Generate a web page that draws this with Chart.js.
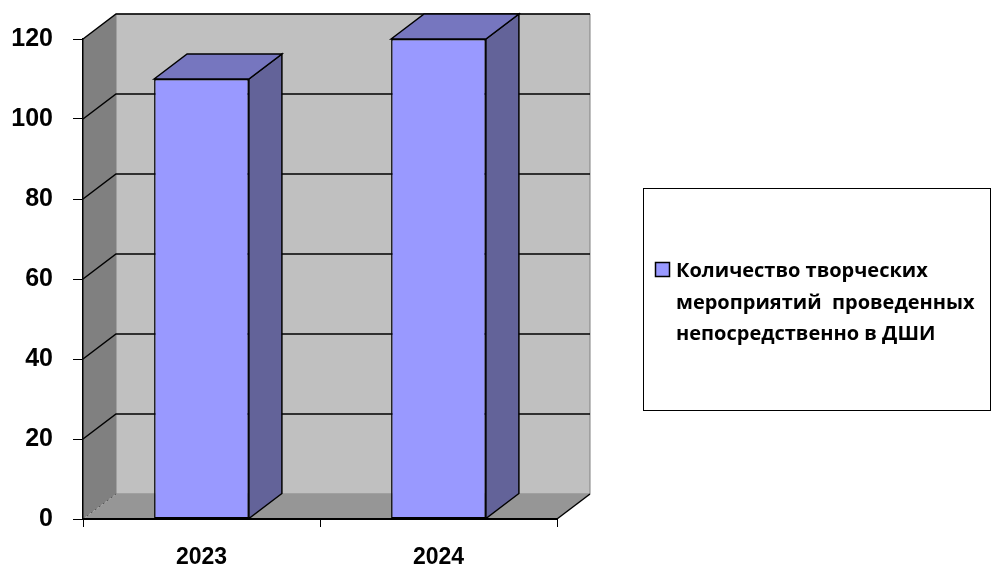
<!DOCTYPE html>
<html>
<head>
<meta charset="utf-8">
<script src="https://cdn.jsdelivr.net/npm/chart.js@4"></script>
<style>
  html, body { margin: 0; padding: 0; background: #fff; }
  #wrap { width: 994px; height: 564px; position: relative; }
</style>
</head>
<body>
<div id="wrap"><canvas id="eventsChart" width="994" height="564"></canvas></div>
<script>
const categories = ['2023', '2024'];
const eventCounts = [110, 120];
const yTickValues = [0, 20, 40, 60, 80, 100, 120];
const legendLines = ['Количество творческих', 'мероприятий  проведенных', 'непосредственно в ДШИ'];

// depth of the fake 3d box
const DX = 33, DY = -25;
const FONT = '"Liberation Sans", Arial, sans-serif';
const LEGEND_FONT = '"Open Sans", "Liberation Sans", sans-serif';

function poly(ctx, pts, fill, stroke, lw) {
  ctx.beginPath();
  ctx.moveTo(pts[0][0], pts[0][1]);
  for (let i = 1; i < pts.length; i++) ctx.lineTo(pts[i][0], pts[i][1]);
  ctx.closePath();
  if (fill) { ctx.fillStyle = fill; ctx.fill(); }
  if (stroke) { ctx.strokeStyle = stroke; ctx.lineWidth = lw || 1; ctx.stroke(); }
}

const box3d = {
  id: 'box3d',
  beforeDraw(chart) {
    const ctx = chart.ctx;
    const a = chart.chartArea;
    const y = chart.scales.y;
    ctx.save();
    // back wall
    poly(ctx, [[a.left + DX, a.top + DY], [a.right + DX, a.top + DY], [a.right + DX, a.bottom + DY], [a.left + DX, a.bottom + DY]], '#c0c0c0', '#808080', 1);
    // side wall
    poly(ctx, [[a.left, a.top], [a.left + DX, a.top + DY], [a.left + DX, a.bottom + DY], [a.left, a.bottom]], '#808080', null);
    // floor
    poly(ctx, [[a.left, a.bottom], [a.right, a.bottom], [a.right + DX, a.bottom + DY], [a.left + DX, a.bottom + DY]], '#969696', null);
    // grid lines
    ctx.strokeStyle = '#000';
    ctx.lineWidth = 1.5;
    yTickValues.forEach(v => {
      const py = y.getPixelForValue(v);
      if (v === 0) {
        ctx.save();
        ctx.setLineDash([2, 3]);
        ctx.strokeStyle = '#555';
        ctx.lineWidth = 1;
        ctx.beginPath();
        ctx.moveTo(a.left, py);
        ctx.lineTo(a.left + DX, py + DY);
        ctx.stroke();
        ctx.restore();
        return;
      }
      ctx.beginPath();
      ctx.moveTo(a.left, py);
      ctx.lineTo(a.left + DX, py + DY);
      ctx.lineTo(a.right + DX, py + DY);
      ctx.stroke();
    });
    // floor front right edge
    ctx.beginPath();
    ctx.moveTo(a.right, a.bottom);
    ctx.lineTo(a.right + DX, a.bottom + DY);
    ctx.stroke();
    ctx.restore();
  },
  afterDatasetsDraw(chart) {
    const ctx = chart.ctx;
    const meta = chart.getDatasetMeta(0);
    ctx.save();
    ctx.lineJoin = 'miter';
    meta.data.forEach(bar => {
      const p = bar.getProps(['x', 'y', 'width', 'base'], true);
      const l = p.x - p.width / 2, r = p.x + p.width / 2;
      // side face
      poly(ctx, [[r, p.y], [r + DX, p.y + DY], [r + DX, p.base + DY], [r, p.base]], '#636399', '#000', 1.5);
      // top face
      poly(ctx, [[l, p.y], [l + DX, p.y + DY], [r + DX, p.y + DY], [r, p.y]], '#7676bf', '#000', 1.5);
    });
    ctx.restore();
  },
  afterDraw(chart) {
    const ctx = chart.ctx;
    ctx.save();
    ctx.strokeStyle = '#000';
    ctx.lineWidth = 1;
    ctx.strokeRect(643.5, 188.5, 347, 222);
    ctx.fillStyle = chart.data.datasets[0].backgroundColor;
    ctx.fillRect(655.5, 262.5, 14, 14);
    ctx.lineWidth = 1.5;
    ctx.strokeRect(655.5, 262.5, 14, 14);
    ctx.fillStyle = '#000';
    ctx.font = 'bold 20px ' + LEGEND_FONT;
    ctx.textBaseline = 'alphabetic';
    legendLines.forEach((line, i) => {
      ctx.fillText(line, 676, 277 + i * 31.5);
    });
    ctx.restore();
  }
};

const ctx = document.getElementById('eventsChart').getContext('2d');
new Chart(ctx, {
  type: 'bar',
  data: {
    labels: categories,
    datasets: [{
      label: legendLines.join(' '),
      data: eventCounts,
      backgroundColor: '#9999ff',
      borderColor: '#000',
      borderWidth: 1.5,
      borderSkipped: false,
      barPercentage: 0.4,
      categoryPercentage: 1
    }]
  },
  options: {
    responsive: false,
    animation: false,
    layout: { padding: { top: 39, right: 437, left: 0, bottom: 0 } },
    plugins: { legend: { display: false }, tooltip: { enabled: false } },
    scales: {
      x: {
        offset: true,
        grid: { drawOnChartArea: false, tickLength: 8, color: '#000', offset: true },
        border: { color: '#000', width: 2 },
        ticks: { color: '#000', font: { family: FONT, size: 23, weight: 'bold' }, padding: 17 },
        afterFit(scale) { scale.height = 45; }
      },
      y: {
        min: 0,
        max: 120,
        grid: { drawOnChartArea: false, tickLength: 10, color: '#000' },
        border: { color: '#000', width: 1.5 },
        ticks: { stepSize: 20, color: '#000', font: { family: FONT, size: 25, weight: 'bold' }, padding: 20 },
        afterFit(scale) { scale.width = 83; }
      }
    }
  },
  plugins: [box3d]
});
</script>
</body>
</html>
